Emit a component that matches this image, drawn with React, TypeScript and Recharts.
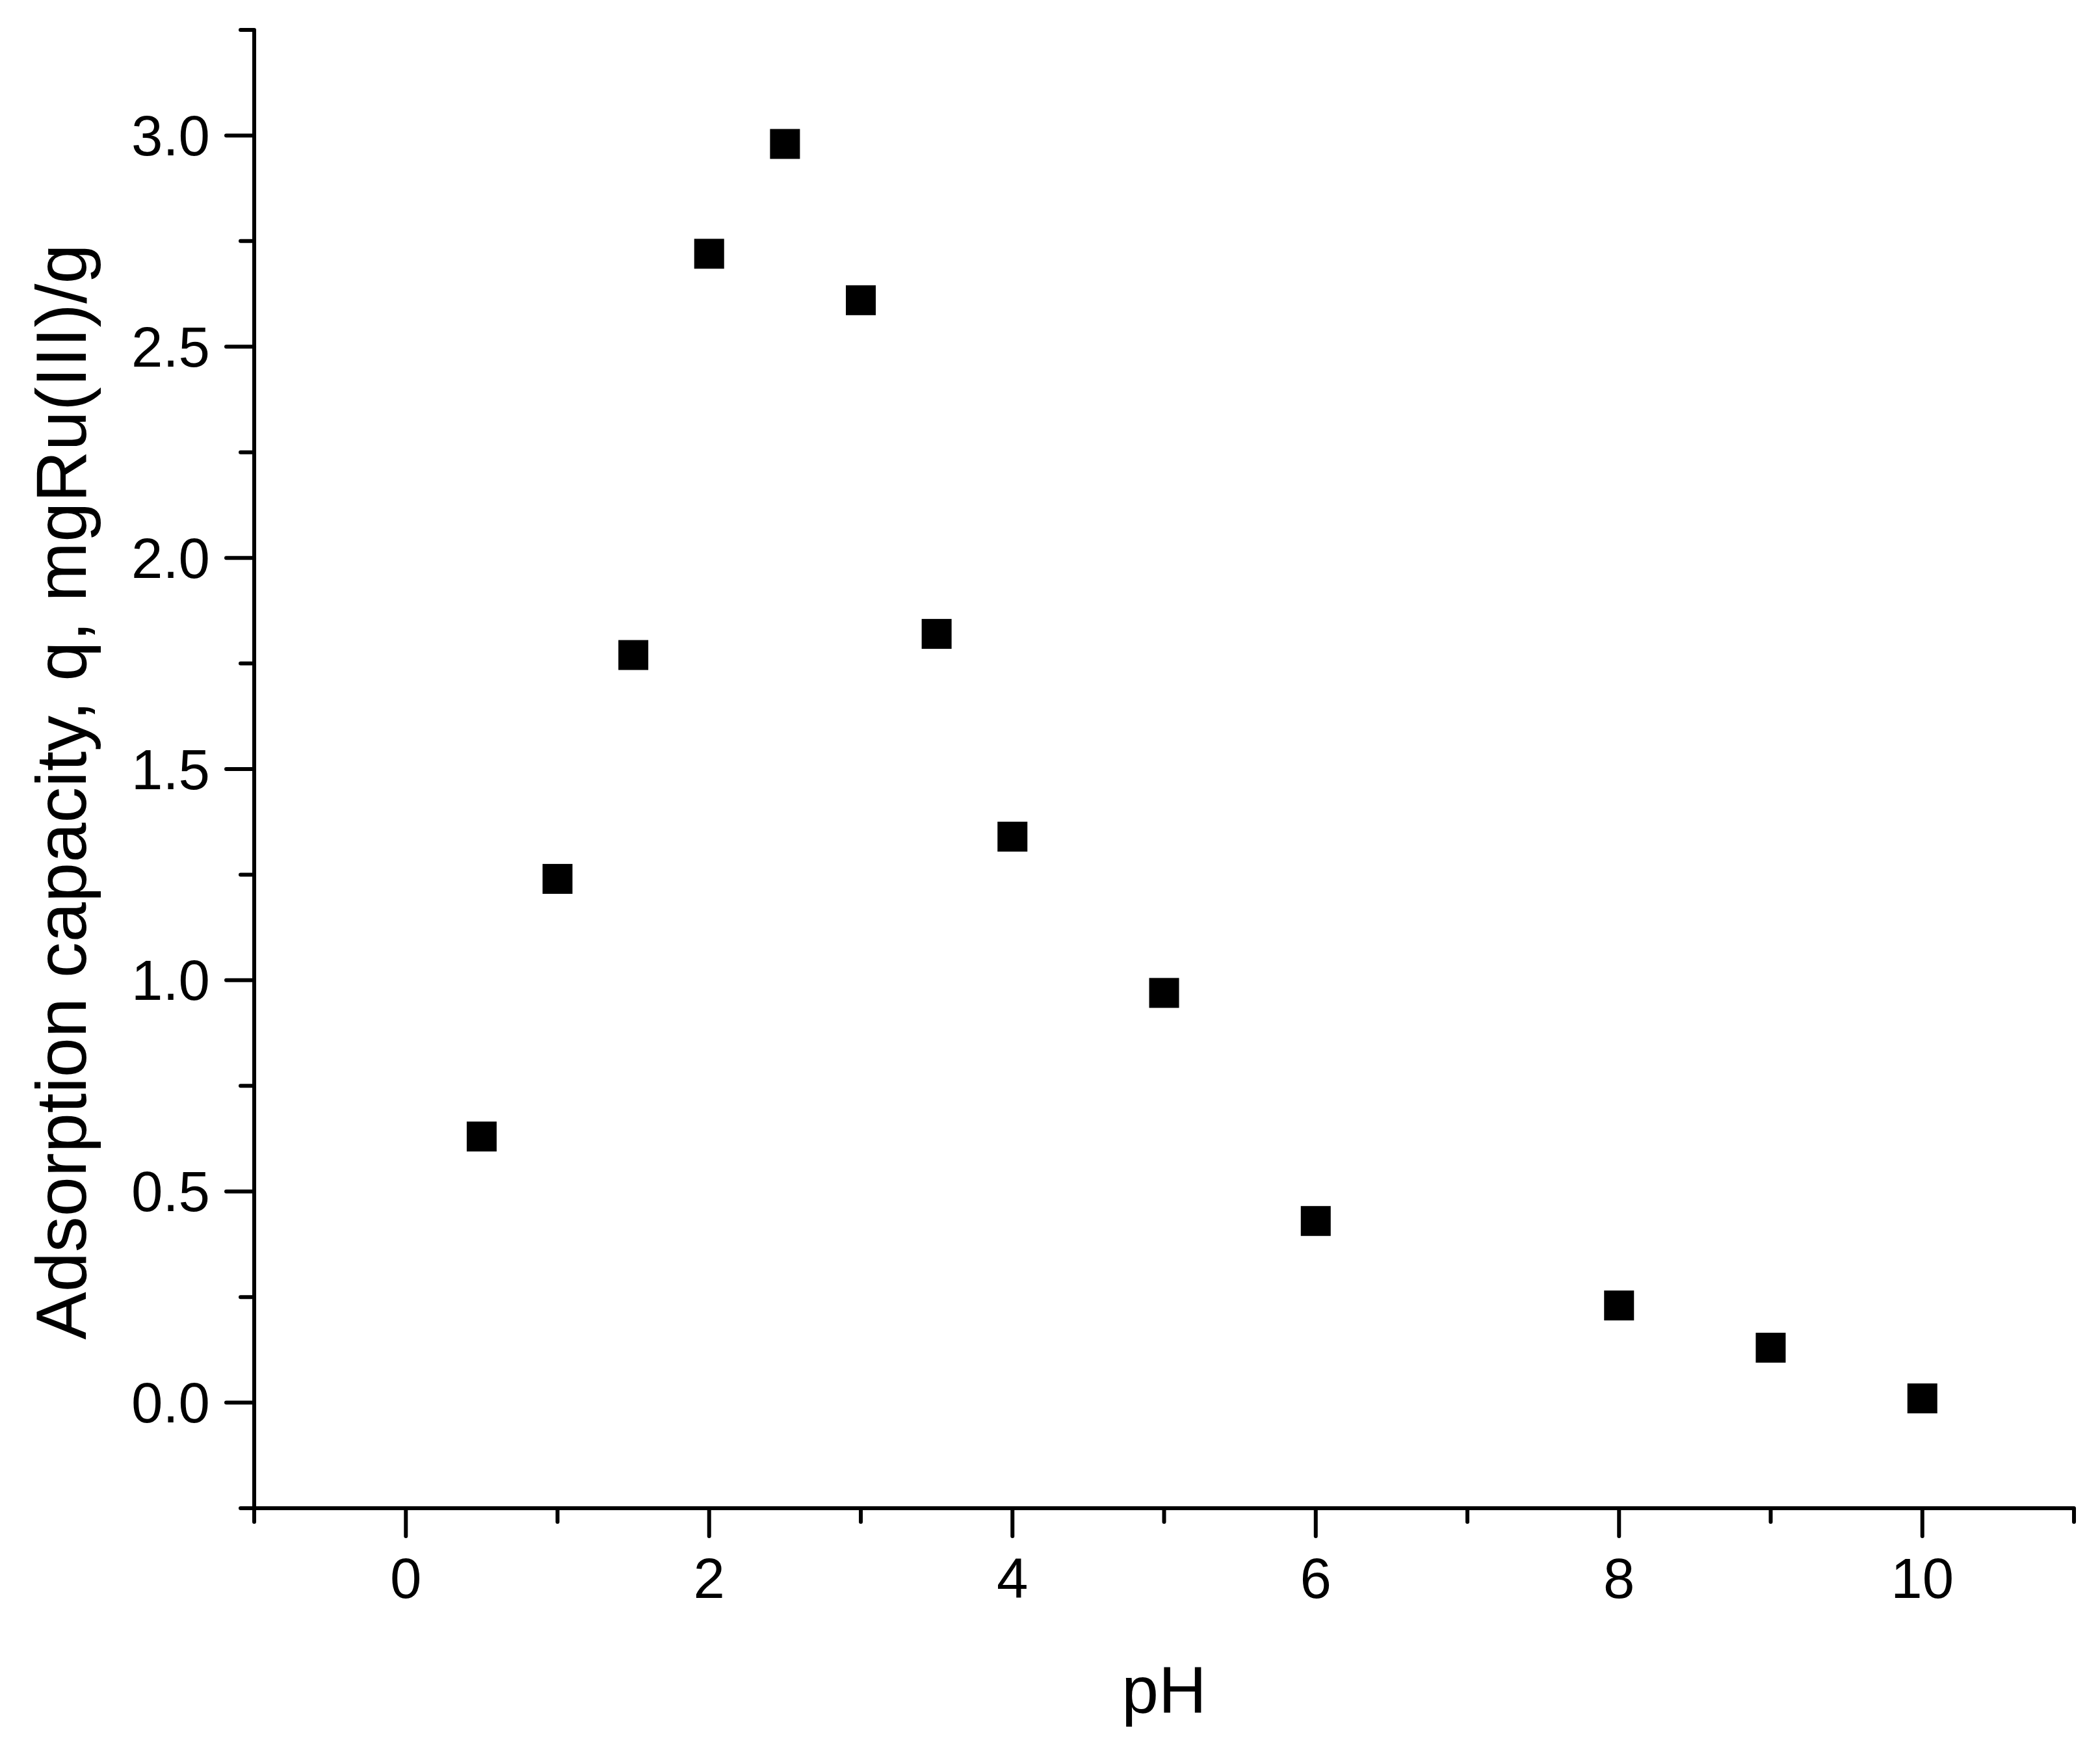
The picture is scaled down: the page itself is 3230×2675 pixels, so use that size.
import React from 'react';
import { ScatterChart, Scatter, XAxis, YAxis, Label } from 'recharts';

const phValues = [0.5, 1, 1.5, 2, 2.5, 3, 3.5, 4, 5, 6, 8, 9, 10];
const capacityValues = [0.63, 1.24, 1.77, 2.72, 2.98, 2.61, 1.82, 1.34, 0.97, 0.43, 0.23, 0.13, 0.01];
const xTicks = [-1, 0, 1, 2, 3, 4, 5, 6, 7, 8, 9, 10, 11];
const yTicks = [-0.25, 0, 0.25, 0.5, 0.75, 1, 1.25, 1.5, 1.75, 2, 2.25, 2.5, 2.75, 3, 3.25];
const xTitle = 'pH';
const yTitle = 'Adsorption capacity, q, mgRu(III)/g';

const data = phValues.map((ph, i) => ({ ph, q: capacityValues[i] }));

const FONT = '"Liberation Sans", Arial, sans-serif';
const TICK_FS = 87;
const MAJOR = 43;
const MINOR = 21;
const SW = 6;
const MARK = 46;

const XTick = (props: any) => {
  const { x, y, payload } = props;
  const v = payload.value;
  const major = Math.abs(v % 2) < 1e-9;
  return (
    <g>
      <line x1={x} x2={x} y1={y} y2={y + (major ? MAJOR : MINOR)} stroke="#000" strokeWidth={SW} strokeLinecap="round" />
      {major && (
        <text x={x} y={y + 107} textAnchor="middle" dominantBaseline="central" fontFamily={FONT} fontSize={TICK_FS} fill="#000">
          {String(v)}
        </text>
      )}
    </g>
  );
};

const YTick = (props: any) => {
  const { x, y, payload } = props;
  const v = payload.value;
  const major = Math.abs((v * 2) - Math.round(v * 2)) < 1e-9;
  return (
    <g>
      <line x1={x - (major ? MAJOR : MINOR)} x2={x} y1={y} y2={y} stroke="#000" strokeWidth={SW} strokeLinecap="round" />
      {major && (
        <text x={x - 68} y={y} textAnchor="end" dominantBaseline="central" fontFamily={FONT} fontSize={TICK_FS} fill="#000">
          {v.toFixed(1)}
        </text>
      )}
    </g>
  );
};

const SquareMark = (props: any) => {
  const { cx, cy } = props;
  return <rect x={cx - MARK / 2} y={cy - MARK / 2} width={MARK} height={MARK} fill="#000" />;
};

export default function App() {
  return (
    <div style={{ position: 'absolute', left: 0, top: 0, background: '#fff' }}>
      <ScatterChart width={3230} height={2675} margin={{ top: 46, right: 40, bottom: 55, left: 91 }}>
        <XAxis
          type="number"
          dataKey="ph"
          domain={[-1, 11]}
          ticks={xTicks}
          interval={0}
          tick={<XTick />}
          tickLine={false}
          tickSize={0}
          tickMargin={0}
          height={300}
          axisLine={{ stroke: '#000', strokeWidth: SW }}
          allowDataOverflow
        >
          <Label
            content={({ viewBox }: any) => (
              <text
                x={viewBox.x + viewBox.width / 2}
                y={viewBox.y + 280}
                textAnchor="middle"
                dominantBaseline="central"
                fontFamily={FONT}
                fontSize={102}
                fill="#000"
              >
                {xTitle}
              </text>
            )}
          />
        </XAxis>
        <YAxis
          type="number"
          dataKey="q"
          domain={[-0.25, 3.25]}
          ticks={yTicks}
          interval={0}
          tick={<YTick />}
          tickLine={false}
          tickSize={0}
          tickMargin={0}
          width={300}
          axisLine={{ stroke: '#000', strokeWidth: SW }}
          allowDataOverflow
        >
          <Label
            content={({ viewBox }: any) => {
              const cx = viewBox.x + 2;
              const cy = viewBox.y + viewBox.height / 2 + 35;
              return (
                <text
                  x={cx}
                  y={cy}
                  transform={`rotate(-90 ${cx} ${cy})`}
                  textAnchor="middle"
                  dominantBaseline="central"
                  fontFamily={FONT}
                  fontSize={110}
                  fill="#000"
                >
                  {yTitle}
                </text>
              );
            }}
          />
        </YAxis>
        <Scatter data={data} shape={<SquareMark />} fill="#000" isAnimationActive={false} />
      </ScatterChart>
    </div>
  );
}
